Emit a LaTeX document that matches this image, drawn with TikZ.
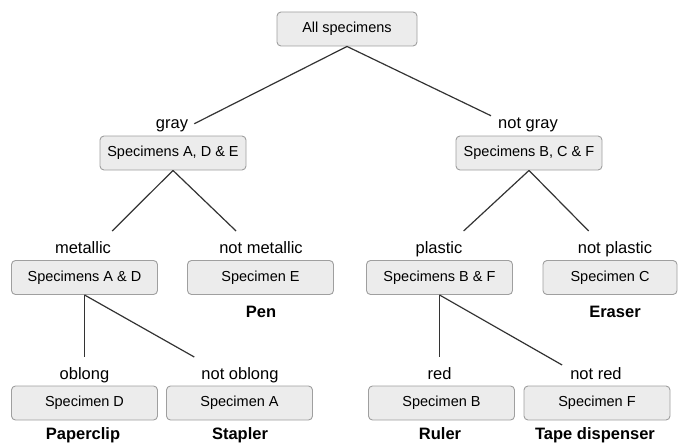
\documentclass[tikz,border=0pt]{standalone}
\usepackage{fontspec}
\setmainfont{Liberation Sans}
\usetikzlibrary{positioning}

\begin{document}
\begin{tikzpicture}[x=1pt, y=-1pt,
    box/.style={draw=gray!75, fill=gray!15, rounded corners=4pt, line width=0.9pt,
        minimum width=146pt, minimum height=34pt, inner sep=2pt, font=\fontsize{14.5}{16}\selectfont},
    cond/.style={anchor=base, inner sep=1pt, outer ysep=9pt, text height=12pt, text depth=3.5pt,
        font=\fontsize{16.5}{18}\selectfont},
    item/.style={anchor=base, inner sep=1pt, font=\fontsize{16.5}{18}\selectfont\bfseries},
    branch/.style={draw=black!80, line width=1.2pt}]
    \useasboundingbox (0,0) rectangle (679,444);

    % specimen boxes
    \node[box, minimum width=140pt] (all) at (347,29) {All specimens};
    \node[box] (ade) at (173,153) {Specimens A, D \& E};
    \node[box] (bcf) at (529,153) {Specimens B, C \& F};
    \node[box] (ad) at (84.5,277.5) {Specimens A \& D};
    \node[box] (e) at (260.5,277.5) {Specimen E};
    \node[box] (bf) at (439.5,277.5) {Specimens B \& F};
    \node[box, minimum width=134pt] (c) at (610,277.5) {Specimen C};
    \node[box] (d) at (84.5,403) {Specimen D};
    \node[box] (a) at (239.5,403) {Specimen A};
    \node[box] (b) at (441.5,403) {Specimen B};
    \node[box] (f) at (597,403) {Specimen F};

    % conditions
    \node[cond] (gray) at (172,128) {gray};
    \node[cond] (notgray) at (528,128) {not gray};
    \node[cond] (metal) at (83,253) {metallic};
    \node[cond] (notmetal) at (261,253) {not metallic};
    \node[cond] (plastic) at (439,253) {plastic};
    \node[cond] (notplastic) at (615,253) {not plastic};
    \node[cond] (oblong) at (84.5,379) {oblong};
    \node[cond] (notoblong) at (240,379) {not oblong};
    \node[cond] (red) at (439.5,379) {red};
    \node[cond] (notred) at (596,379) {not red};

    % objects
    \node[item] (pen) at (261,317) {Pen};
    \node[item] (eraser) at (615,317) {Eraser};
    \node[item] (paperclip) at (83,439) {Paperclip};
    \node[item] (stapler) at (240,439) {Stapler};
    \node[item] (ruler) at (440,439) {Ruler};
    \node[item] (tape) at (595,439) {Tape dispenser};

    \draw[branch] (all.south) -- ([xshift=5pt]gray.east);
    \draw[branch] (all.south) -- ([xshift=-6pt,yshift=8pt]notgray.west);
    \draw[branch] (ade.south) -- (metal.north east);
    \draw[branch] (ade.south) -- ([xshift=18pt]notmetal.north west);
    \draw[branch] (bcf.south) -- (plastic.north east);
    \draw[branch] (bcf.south) -- ([xshift=12pt]notplastic.north west);
    \draw[branch] (ad.south) -- (oblong.north);
    \draw[branch] (ad.south) -- ([xshift=-6pt]notoblong.north west);
    \draw[branch] (bf.south) -- (red.north);
    \draw[branch] (bf.south) -- ([xshift=-7pt,yshift=-8pt]notred.north west);
\end{tikzpicture}
\end{document}
